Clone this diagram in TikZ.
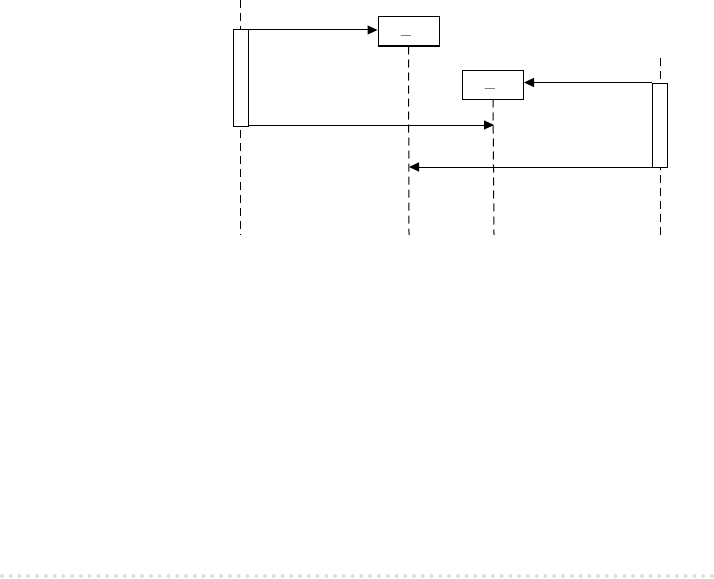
\documentclass[tikz,border=0pt]{standalone}
\usepackage{tikz}
\usetikzlibrary{arrows.meta}

\begin{document}
\begin{tikzpicture}[x=1pt, y=-1pt, >={Triangle[length=10pt,width=9pt]},
    obj/.style={draw, line width=1pt, minimum width=61pt, minimum height=29pt, inner sep=0pt},
    tag/.style={font=\large\bfseries, inner sep=0pt},
    act/.style={draw, line width=1pt, fill=white, minimum width=15pt, inner sep=0pt},
    life/.style={line width=1pt, dash pattern=on 8pt off 5pt},
    msg/.style={->, line width=1pt}]
    \useasboundingbox (0,0) rectangle (714,578);

    % objects
    \node[obj] (objA) at (408.5,31.5) {};
    \node[tag] (labA) at (406,35) {\_};
    \node[obj] (objB) at (493,84.5) {};
    \node[tag] (labB) at (490,88) {\_};
    \draw[line width=2pt] (objA.south west) -- (objA.south east);

    % lifelines
    \coordinate (topL) at (240,0);
    \coordinate (endL) at (240,235);
    \coordinate (topR) at (660,58);
    \coordinate (endR) at (660,235);
    \coordinate (endA) at (409,235);
    \coordinate (endB) at (494,235);
    \draw[life] (topL) -- (endL);
    \draw[life] (topR) -- (endR);
    \draw[life] (objA.south) -- (endA);
    \draw[life] (objB.south) -- (endB);

    % activations
    \node[act, minimum height=96pt] (actL) at (240.5,78) {};
    \node[act, minimum height=84pt] (actR) at (660,125) {};

    % messages
    \coordinate (hitB) at (494,125);
    \coordinate (hitA) at (409,167);
    \draw[msg] (actL.north east) ++(0,0.5) -- (objA.west |- 0,30);
    \draw[msg] (actL.east |- hitB) -- (hitB);
    \draw[msg] (actR.north west) -- (objB.east |- actR.north);
    \draw[msg] (actR.south west) ++(0,-0.5) -- (hitA);

    % page edge
    \foreach \i in {0,...,81}
        \fill[gray!25] (2+\i*8.765,576) circle (2pt);
\end{tikzpicture}
\end{document}
